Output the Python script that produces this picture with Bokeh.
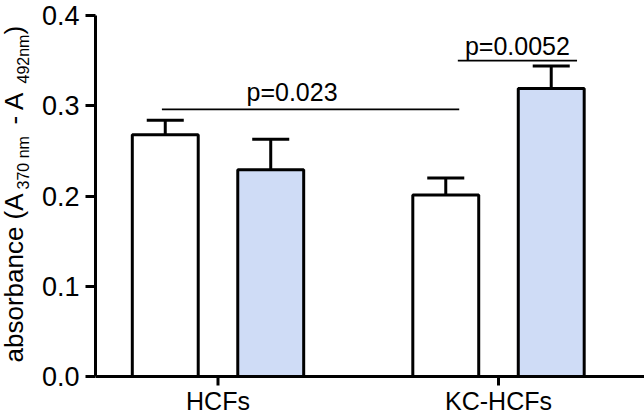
import numpy as np
from bokeh.plotting import figure
from bokeh.layouts import row
from bokeh.models import Range1d, FixedTicker, PrintfTickFormatter, Label, Span
from bokeh.core.properties import value
from bokeh.embed import file_html
from bokeh.resources import INLINE

# ---------------- data ----------------
categories = ["HCFs", "KC-HCFs"]
control_mean = [0.268, 0.201]     # white bars
control_err = [0.016, 0.019]
treated_mean = [0.229, 0.319]     # blue bars
treated_err = [0.034, 0.025]
y_ticks = [0.0, 0.1, 0.2, 0.3, 0.4]

p_labels = ["p=0.023", "p=0.0052"]
p_x0 = [0.80, 1.855]
p_x1 = [1.86, 2.28]
p_y = [0.296, 0.350]

y_label_parts = ["absorbance (A", "370 nm", " - A", "492nm", ")"]

FONT = "Liberation Sans"
BASE_SHIFT = 0.37   # em: where the renderer puts the baseline relative to the anchor

# ---------------- layout ----------------
TOTAL_W, H = 644, 415
LAB_W = 36
W = TOTAL_W - LAB_W
LEFT, TOP = 59, 15
ZERO_PX = 376.0                      # page row of y = 0
PPU = (ZERO_PX - TOP) / 0.4          # pixels per unit
x_start, x_end = 0.5633, 2.5205
y_bottom = -(H - ZERO_PX) / PPU
y_range = Range1d(y_bottom, 0.4)


def page_y(py):
    return (ZERO_PX - py) / PPU


def to_page(v):
    return ZERO_PX - v * PPU


p = figure(width=W, height=H, output_backend="svg", toolbar_location=None,
           x_range=Range1d(x_start, x_end), y_range=y_range,
           x_axis_location=None,
           min_border_left=LEFT, min_border_right=0,
           min_border_top=TOP, min_border_bottom=0)
p.outline_line_color = None
p.xgrid.visible = False
p.ygrid.visible = False
p.background_fill_color = "white"

group_x = np.arange(1, len(categories) + 1, dtype=float)
offset = 0.188
bar_w = 0.235
cap_w = 0.132

for xs, mean, err, fill in [(group_x - offset, control_mean, control_err, "white"),
                            (group_x + offset, treated_mean, treated_err, "#cfdcf6")]:
    mean = np.array(mean)
    err = np.array(err)
    top = mean + err
    p.segment(x0=xs, y0=mean, x1=xs, y1=top, line_color="black", line_width=3)
    p.segment(x0=xs - cap_w / 2, y0=top, x1=xs + cap_w / 2, y1=top,
              line_color="black", line_width=3)
    p.vbar(x=xs, top=mean, bottom=0, width=bar_w, fill_color=fill,
           line_color="black", line_width=3)

# significance lines and their p-values
p.segment(x0=p_x0, y0=p_y, x1=p_x1, y1=p_y, line_color="black", line_width=1.8)
p_gap = [8.5, 5.6]          # pixels between line and text baseline
p_shift = [-0.066, 0.0]     # horizontal nudge of the text
for lab, a, b, y, g, s in zip(p_labels, p_x0, p_x1, p_y, p_gap, p_shift):
    anchor = to_page(y) - g - BASE_SHIFT * 25
    p.add_layout(Label(x=(a + b) / 2 + s, y=page_y(anchor),
                       text=lab, text_align="center", text_baseline="alphabetic",
                       text_font=FONT, text_font_size="25px", text_color="black"))

# y axis
yax = p.yaxis[0]
yax.bounds = (0, 0.4)
yax.axis_line_width = 3
yax.axis_line_color = "black"
yax.major_tick_line_width = 3
yax.major_tick_line_color = "black"
yax.major_tick_in = 0
yax.major_tick_out = 10
yax.minor_tick_line_color = None
yax.ticker = FixedTicker(ticks=y_ticks)
yax.formatter = PrintfTickFormatter(format="%.1f")
yax.major_label_text_font = FONT
yax.major_label_text_font_size = "27px"
yax.major_label_text_color = "black"
yax.major_label_standoff = 6

# x axis (drawn at y = 0 inside the frame)
p.add_layout(Span(location=0, dimension="width", line_color="black", line_width=3))
p.segment(x0=group_x, y0=0, x1=group_x, y1=page_y(ZERO_PX + 9), line_color="black",
          line_width=3)
p.text(x=group_x, y=page_y(409.5 - BASE_SHIFT * 25), text=categories, text_align="center",
       text_baseline="alphabetic", text_font=value(FONT), text_font_size=value("25px"),
       text_color="black")

# ---------------- y-axis title panel (rotated text with subscripts) ----------------
pl = figure(width=LAB_W, height=H, output_backend="svg", toolbar_location=None,
            x_range=Range1d(0, LAB_W), y_range=y_range,
            x_axis_location=None, y_axis_location=None,
            min_border_left=0, min_border_right=0,
            min_border_top=TOP, min_border_bottom=0)
pl.outline_line_color = None
pl.xgrid.visible = False
pl.ygrid.visible = False

part_sizes = [26, 16, 26, 16, 26]
part_start = [362, 189, 124, 83, 34]     # page row where each piece begins (reads upward)
part_base = [23, 28.5, 23, 28.5, 23]     # page column of the baseline
for txt, fs, sy, bx in zip(y_label_parts, part_sizes, part_start, part_base):
    pl.text(x=[bx - BASE_SHIFT * fs], y=[page_y(sy)], text=[txt], angle=np.pi / 2,
            text_align="left", text_baseline="alphabetic", text_font=value(FONT),
            text_font_size=value(f"{fs}px"), text_color="black")

layout = row(pl, p)
open("out.html", "w").write(file_html(layout, INLINE))
